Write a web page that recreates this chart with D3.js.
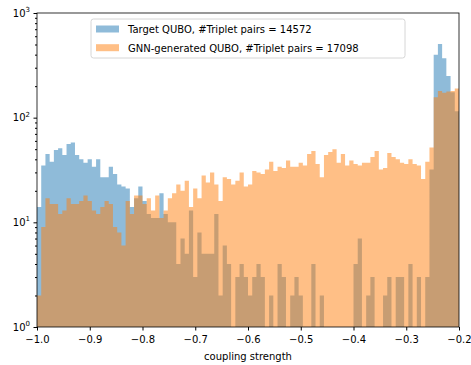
<!DOCTYPE html>
<html>
<head>
<meta charset="utf-8">
<script src="https://cdn.jsdelivr.net/npm/d3@7"></script>
<style>
  body { margin: 0; background: #fff; }
  text { font-family: "DejaVu Sans", sans-serif; }
</style>
</head>
<body>
<script>
// histogram counts, 100 bins of width 0.008 from -1.0 to -0.2
var binStart = -1.0, binWidth = 0.008;

var targetCounts = [
  14, 35, 45, 38, 49, 51, 44, 56, 58, 44,
  40, 37, 40, 34, 40, 27, 27, 34, 29, 23,
  22, 21, 14, 17, 22, 16, 12, 11, 11, 19,
  12, 10, 10, 4, 7, 5, 13, 3, 8, 5,
  5, 5, 12, 2, 6, 4, 0, 3, 4, 3,
  2, 3, 4, 3, 0, 2, 0, 4, 3, 0,
  2, 3, 2, 0, 0, 4, 0, 2, 0, 0,
  0, 0, 0, 0, 0, 4, 7, 0, 2, 3,
  0, 0, 2, 3, 0, 3, 3, 0, 4, 0,
  3, 0, 3, 32, 400, 505, 370, 250, 175, 115
];

var gnnCounts = [
  2, 9, 17, 15, 15, 12, 13, 17, 15, 15,
  16, 18, 16, 13, 12, 14, 16, 15, 9, 8,
  6, 16, 12, 18, 18, 15, 17, 13, 18, 11,
  13, 17, 19, 23, 20, 25, 14, 21, 17, 28,
  24, 30, 23, 16, 27, 26, 23, 25, 30, 22,
  23, 31, 30, 29, 32, 38, 31, 34, 33, 39,
  34, 34, 37, 35, 45, 48, 36, 27, 44, 47,
  50, 37, 45, 35, 39, 36, 35, 37, 37, 42,
  48, 32, 33, 46, 42, 40, 37, 36, 40, 36,
  35, 26, 38, 52, 157, 180, 173, 178, 180, 190
];

var seriesNames = ["Target QUBO, #Triplet pairs = 14572", "GNN-generated QUBO, #Triplet pairs = 17098"];
var seriesColors = ["#1f77b4", "#ff7f0e"];
var xTicks = [-1.0, -0.9, -0.8, -0.7, -0.6, -0.5, -0.4, -0.3, -0.2];
var yTicks = [1, 10, 100, 1000];
var xLabel = "coupling strength";

var W = 471, H = 365;
var margin = {top: 13, right: 12, bottom: 38, left: 37};

var svg = d3.select("body").append("svg")
    .attr("width", W)
    .attr("height", H);

var xScale = d3.scaleLinear().domain([-1.0, -0.2]).range([margin.left, W - margin.right]);
var yScale = d3.scaleLog().domain([1, 1000]).range([H - margin.bottom, margin.top]);

var plot = svg.append("g");

// each bin gives two points (left and right edge) so the step outline is exact
function histPoints(counts) {
    var pts = [];
    counts.forEach(function (c, i) {
        pts.push({x: binStart + i * binWidth, c: c});
        pts.push({x: binStart + (i + 1) * binWidth, c: c});
    });
    return pts;
}

var area = d3.area()
    .defined(function (d) { return d.c > 0; })
    .x(function (d) { return xScale(d.x); })
    .y0(yScale(1))
    .y1(function (d) { return yScale(d.c); });

plot.append("path")
    .attr("d", area(histPoints(targetCounts)))
    .attr("fill", seriesColors[0])
    .attr("fill-opacity", 0.5);
plot.append("path")
    .attr("d", area(histPoints(gnnCounts)))
    .attr("fill", seriesColors[1])
    .attr("fill-opacity", 0.5);

// axes
var fmt = d3.format(".1f");
var xAxis = d3.axisBottom(xScale).tickValues(xTicks).tickFormat(fmt).tickSize(3.5).tickSizeOuter(0);
var gx = svg.append("g").attr("transform", "translate(0," + (H - margin.bottom) + ")").call(xAxis);
gx.select(".domain").remove();
gx.selectAll("text").attr("y", 16).attr("dy", 0).attr("font-size", "10px").attr("fill", "#000").attr("font-family", "DejaVu Sans");

var minorTicks = [];
[1, 10, 100].forEach(function (dec) {
    for (var m = 2; m <= 9; m++) minorTicks.push(dec * m);
});
var yAxisMinor = d3.axisLeft(yScale).tickValues(minorTicks).tickFormat("").tickSize(2).tickSizeOuter(0);
var gym = svg.append("g").attr("transform", "translate(" + margin.left + ",0)").call(yAxisMinor);
gym.select(".domain").remove();

var yAxis = d3.axisLeft(yScale).tickValues(yTicks).tickFormat("").tickSize(3.5).tickSizeOuter(0);
var gy = svg.append("g").attr("transform", "translate(" + margin.left + ",0)").call(yAxis);
gy.select(".domain").remove();

yTicks.forEach(function (v) {
    var t = svg.append("text")
        .attr("x", margin.left - 7)
        .attr("y", yScale(v) + 3.5)
        .attr("text-anchor", "end")
        .attr("font-size", "10px");
    t.append("tspan").text("10");
    t.append("tspan").attr("dy", -4.5).attr("font-size", "7px").text(String(Math.round(Math.log10(v))));
});

// frame
svg.append("rect")
    .attr("x", margin.left).attr("y", margin.top)
    .attr("width", W - margin.right - margin.left)
    .attr("height", H - margin.bottom - margin.top)
    .attr("fill", "none").attr("stroke", "#000").attr("stroke-width", 0.8);

svg.append("text")
    .attr("x", (margin.left + W - margin.right) / 2)
    .attr("y", 360)
    .attr("text-anchor", "middle")
    .attr("font-size", "10px")
    .text(xLabel);

// legend
var lg = svg.append("g");
lg.append("rect")
    .attr("x", 91).attr("y", 19).attr("width", 314).attr("height", 39)
    .attr("rx", 2.5)
    .attr("fill", "#fff").attr("fill-opacity", 0.8)
    .attr("stroke", "#cccccc").attr("stroke-width", 0.8);
seriesNames.forEach(function (name, i) {
    lg.append("rect")
        .attr("x", 96).attr("y", 25.5 + i * 18.7).attr("width", 23).attr("height", 7)
        .attr("fill", seriesColors[i]).attr("fill-opacity", 0.5);
    lg.append("text")
        .attr("x", 128).attr("y", 33 + i * 18.7)
        .attr("font-size", "10px")
        .text(name);
});
</script>
</body>
</html>
